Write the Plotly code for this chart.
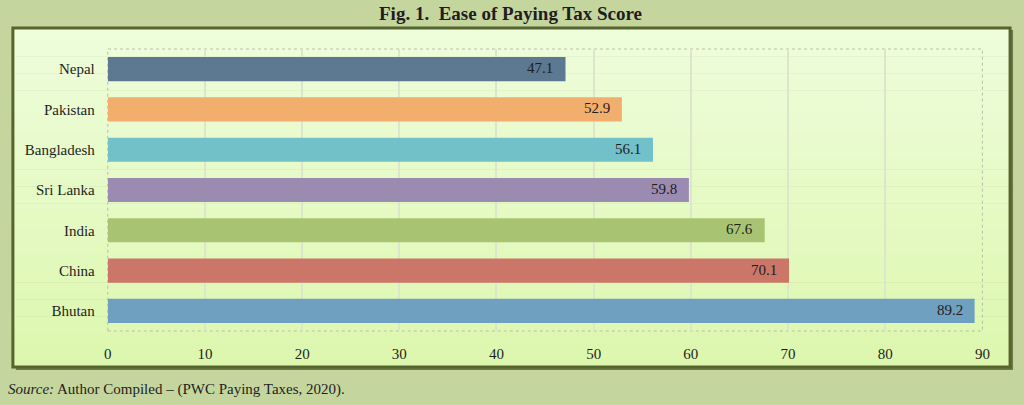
import plotly.graph_objects as go

countries = ["Nepal", "Pakistan", "Bangladesh", "Sri Lanka", "India", "China", "Bhutan"]
scores = [47.1, 52.9, 56.1, 59.8, 67.6, 70.1, 89.2]
bar_colors = ["#5d7891", "#f2ae6c", "#72c1c9", "#9c8bb1", "#a8c472", "#cc7669", "#70a0bf"]
x_ticks = [0, 10, 20, 30, 40, 50, 60, 70, 80, 90]

W, H = 1024, 405
PL, PR, PT, PB = 105, 990, 49, 331  # plot area in px

def px(x):
    return x / W

def py(y):
    return 1 - y / H

FONT = "Liberation Serif, Times New Roman, serif"

fig = go.Figure()
fig.add_trace(go.Bar(
    x=scores, y=countries, orientation="h",
    marker=dict(color=bar_colors, line=dict(width=0)),
    hoverinfo="x+y",
))

shapes = []
# panel shadow
shapes.append(dict(type="rect", xref="paper", yref="paper",
                   x0=px(12), x1=px(1021), y0=py(370), y1=py(30),
                   fillcolor="#6d7a45", line=dict(width=0), layer="below"))
# gradient panel via strips
top_c = (0xee, 0xfd, 0xdc)
bot_c = (0xdd, 0xf7, 0xae)
y_top, y_bot = 28, 367
n = 60
for i in range(n):
    t = i / (n - 1)
    c = tuple(int(round(top_c[k] + (bot_c[k] - top_c[k]) * t)) for k in range(3))
    ya = y_top + (y_bot - y_top) * i / n
    yb = y_top + (y_bot - y_top) * (i + 1) / n
    shapes.append(dict(type="rect", xref="paper", yref="paper",
                       x0=px(9), x1=px(1018), y0=py(yb + 0.6), y1=py(ya),
                       fillcolor="rgb(%d,%d,%d)" % c, line=dict(width=0), layer="below"))
# panel border
shapes.append(dict(type="rect", xref="paper", yref="paper",
                   x0=px(9), x1=px(1018), y0=py(367), y1=py(28),
                   fillcolor="rgba(0,0,0,0)", line=dict(color="#56652e", width=3), layer="below"))
# plot area dotted border
shapes.append(dict(type="rect", xref="paper", yref="paper",
                   x0=px(PL), x1=px(PR), y0=py(PB), y1=py(PT),
                   fillcolor="rgba(0,0,0,0)", line=dict(color="#b8c0a8", width=1, dash="dot"), layer="below"))

annotations = [
    dict(text="<b>Fig. 1.  Ease of Paying Tax Score</b>", xref="paper", yref="paper",
         x=0.5, y=py(13), xanchor="center", yanchor="middle", showarrow=False,
         font=dict(family=FONT, size=19, color="#1e1e1e")),
    dict(text="<i>Source:</i> Author Compiled – (PWC Paying Taxes, 2020).",
         xref="paper", yref="paper", x=px(2), y=py(389), xanchor="left", yanchor="middle",
         showarrow=False, font=dict(family=FONT, size=15, color="#1e1e1e")),
]
for c, v in zip(countries, scores):
    annotations.append(dict(text=f"{v:.1f}", x=v, y=c, xref="x", yref="y",
                            xanchor="right", yanchor="middle", xshift=-10, yshift=1,
                            showarrow=False,
                            font=dict(family=FONT, size=15, color="#1e1e1e")))

fig.update_layout(
    width=W, height=H,
    margin=dict(l=0, r=0, t=0, b=0),
    paper_bgcolor="#c5d59e",
    plot_bgcolor="rgba(0,0,0,0)",
    showlegend=False,
    bargap=0.4,
    shapes=shapes,
    font=dict(family=FONT, size=15, color="#1e1e1e"),
    xaxis=dict(domain=[px(PL), px(PR)], range=[0, 90], tickvals=x_ticks,
               showgrid=True, gridcolor="#dde6cc", gridwidth=1.5, zeroline=False,
               showline=False, ticks="", ticklabelstandoff=12,
               tickfont=dict(family=FONT, size=15, color="#1e1e1e")),
    yaxis=dict(domain=[py(PB), py(PT)], autorange="reversed", showgrid=False,
               showline=False, ticks="", ticklabelstandoff=12,
               tickfont=dict(family=FONT, size=15, color="#1e1e1e")),
    annotations=annotations,
)

fig.write_html("out.html")
